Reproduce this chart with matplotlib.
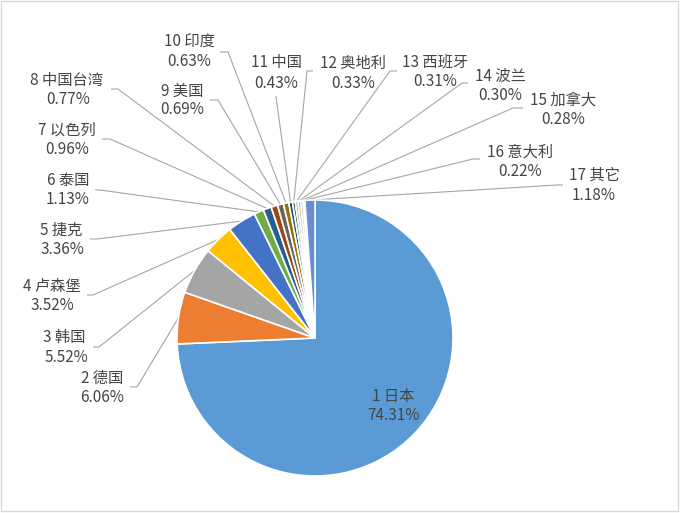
import matplotlib
matplotlib.use('Agg')
import matplotlib.pyplot as plt
from matplotlib.patches import Rectangle
import numpy as np

# ---- data ----
categories = ['日本', '德国', '韩国', '卢森堡', '捷克', '泰国', '以色列', '中国台湾',
              '美国', '印度', '中国', '奥地利', '西班牙', '波兰', '加拿大', '意大利', '其它']
shares = [74.31, 6.06, 5.52, 3.52, 3.36, 1.13, 0.96, 0.77,
          0.69, 0.63, 0.43, 0.33, 0.31, 0.30, 0.28, 0.22, 1.18]

# ---- styles ----
colors = ['#5B9BD5', '#ED7D31', '#A5A5A5', '#FFC000', '#4472C4', '#70AD47',
          '#255E91', '#9E480E', '#636363', '#997300', '#264478', '#43682B',
          '#7CAFDD', '#F1975A', '#B7B7B7', '#FFCD33', '#698ED0']
text_color = '#454545'
line_color = '#A6A6A6'
fonts = ['Noto Sans CJK SC', 'DejaVu Sans']
fs = 11

W, H = 680, 513

def P(x, y):
    """pixel (from top-left) -> data coords"""
    return (x, H - y)

# label layout in pixels: (name_center, pct_center, anchor, elbow)
layout = {
    1:  ((393, 397), (393, 415), None, None),
    2:  ((102, 378), (102, 398), (130, 387), (137, 387)),
    3:  ((64, 337), (66, 357), (93, 347), (99, 347)),
    4:  ((52, 287), (52, 305), (87, 295), (93, 295)),
    5:  ((61, 230), (62, 250), (90, 239), (97, 239)),
    6:  ((68, 180), (68, 200), (95, 190), (100, 190)),
    7:  ((67, 130), (67, 149), (102, 139), (110, 139)),
    8:  ((67, 80), (68, 99), (111, 89), (118, 89)),
    9:  ((182, 91), (182, 110), (210, 100), (218, 100)),
    10: ((189, 42), (189, 62), (220, 52), (228, 52)),
    11: ((276, 63), (276, 84), (276, 96), (276, 97)),
    12: ((353, 63), (353, 84), (313, 71), (307, 71)),
    13: ((435, 62), (435, 82), (397, 71), (390, 71)),
    14: ((500, 76), (500, 95), (468, 83), (462, 83)),
    15: ((563, 100), (563, 119), (523, 108), (513, 108)),
    16: ((520, 152), (520, 171), (480, 159), (473, 159)),
    17: ((594, 175), (594, 195), (563, 185), (557, 185)),
}

fig = plt.figure(figsize=(W / 100, H / 100), dpi=100)
ax = fig.add_axes([0, 0, 1, 1])

center = P(315, 338)
radius = 138
wedges, _ = ax.pie(shares, colors=colors, startangle=90, counterclock=False,
                   center=center, radius=radius,
                   wedgeprops=dict(edgecolor='white', linewidth=1.2))
ax.set_xlim(0, W)
ax.set_ylim(0, H)
ax.set_aspect('equal')
ax.axis('off')

for i, (w, name, v) in enumerate(zip(wedges, categories, shares), start=1):
    name_xy, pct_xy, anchor, elbow = layout[i]
    ax.text(*P(*name_xy), f'{i} {name}', ha='center', va='center',
            fontsize=fs, color=text_color, family=fonts)
    ax.text(*P(*pct_xy), f'{v:.2f}%', ha='center', va='center',
            fontsize=fs, color=text_color, family=fonts)
    if anchor is not None:
        mid = np.deg2rad((w.theta1 + w.theta2) / 2)
        ex = center[0] + radius * np.cos(mid)
        ey = center[1] + radius * np.sin(mid)
        a = P(*anchor)
        e = P(*elbow)
        ax.plot([a[0], e[0], ex], [a[1], e[1], ey], color=line_color,
                lw=0.8, solid_capstyle='butt', zorder=0)

fig.patches.append(Rectangle((1 / W, 2 / H), 677 / W, 510 / H,
                             transform=fig.transFigure, fill=False,
                             ec='#D9D9D9', lw=1.0))

fig.savefig('out.png', dpi=100)
